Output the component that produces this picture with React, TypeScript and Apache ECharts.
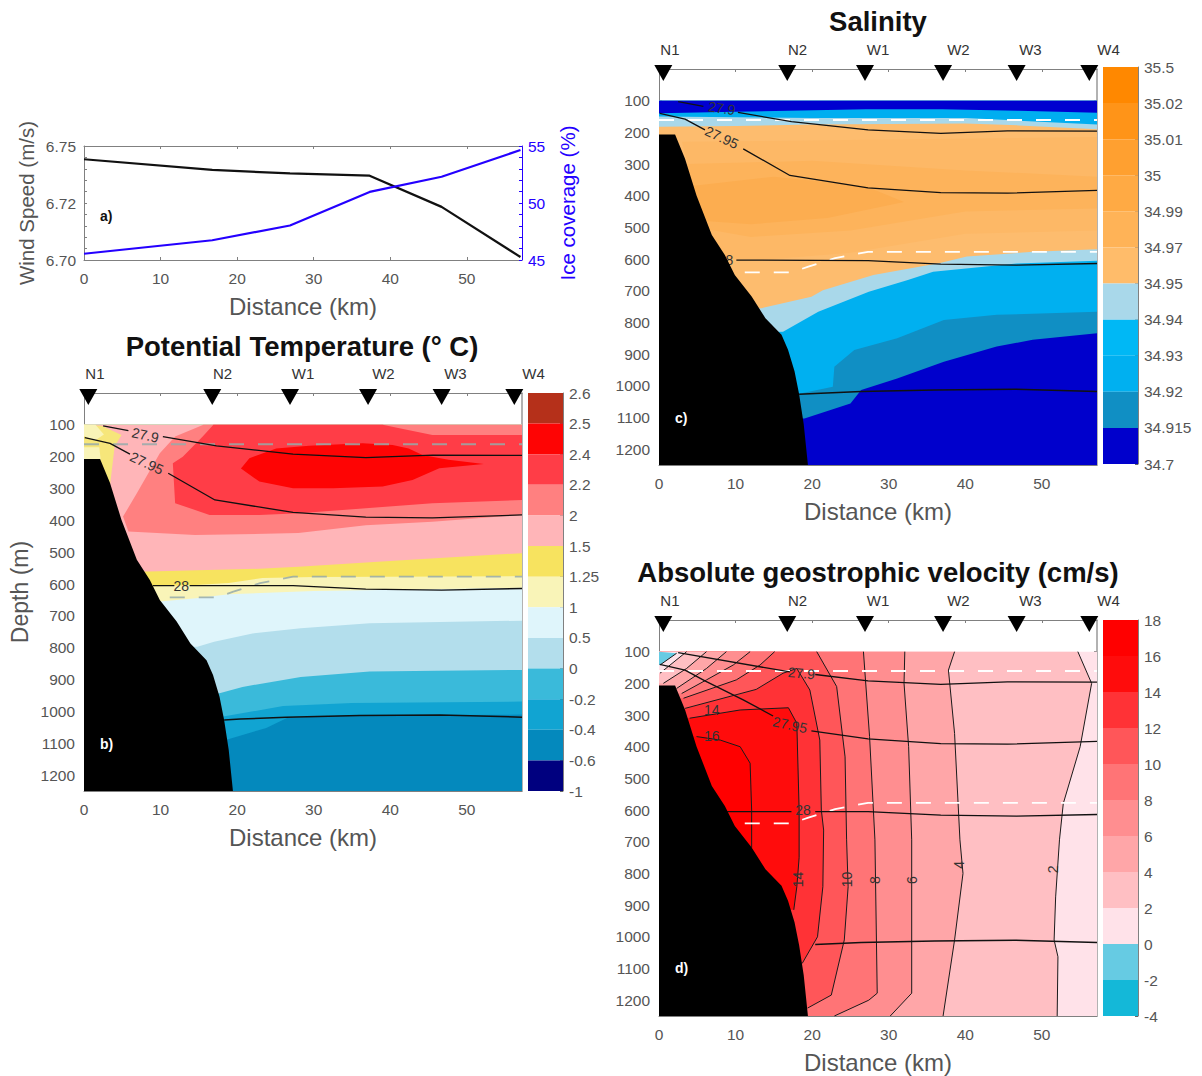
import React, { useEffect, useRef } from "react";
import * as echarts from "echarts";

type Pt = number[];
const FONT = "'Liberation Sans', Arial, sans-serif";
const GREY = "#555";
const AXIS = "#808080";
const KM_MAX = 57.2;
const TOP = 100;
const BOTTOM = 1250;
const TICK_FONT = 15.5;

// ---------- panel a ----------
const windKm = [0, 16.75, 26.9, 37.3, 46.7, 57];
const windSpeed = [6.7442, 6.7395, 6.738, 6.737, 6.7233, 6.7013];
const iceKm = [0, 16.75, 26.9, 37.3, 46.7, 57];
const iceCover = [45.55, 46.73, 48.03, 50.97, 52.3, 54.65];
const windTicks = [6.7, 6.725, 6.75];
const windTickLabels = ["6.70", "6.72", "6.75"];
const windMinor = [6.7, 6.705, 6.71, 6.715, 6.72, 6.725, 6.73, 6.735, 6.74, 6.745, 6.75];
const iceTicks = [45, 50, 55];
const iceMinor = [45, 46, 47, 48, 49, 50, 51, 52, 53, 54, 55];

// ---------- shared ----------
const kmTicks = [0, 10, 20, 30, 40, 50];
const depthTicks = [100, 200, 300, 400, 500, 600, 700, 800, 900, 1000, 1100, 1200];
const stationKm = [0.56, 16.75, 26.9, 37.1, 46.7, 56.2];
const stationLabelKm = [1.43, 18.1, 28.6, 39.1, 48.5, 58.7];
const stationNames = ["N1", "N2", "W1", "W2", "W3", "W4"];
const seafloor: Pt[] = [[0, 207], [2.1, 207], [3.4, 283], [4.9, 399], [6.9, 524], [8.6, 587], [9.9, 650], [12.1, 718], [13.9, 787], [16, 839], [16.85, 886], [17.7, 954], [18.3, 1027], [18.9, 1121], [19.45, 1250], [0, 1250]];

const iso279A: Pt[] = [[2.5, 103], [5.8, 118]];
const iso279B: Pt[] = [[10.3, 137], [17.3, 166], [27.3, 192], [36.8, 203], [45.5, 195], [57.2, 196]];
const iso2795A: Pt[] = [[0.1, 140], [3.4, 158], [6, 192]];
const iso2795B: Pt[] = [[11, 252], [17.1, 336], [27.3, 375], [36.8, 390], [45.5, 392], [57.2, 383]];
const iso28: Pt[] = [[9, 605], [13.9, 605], [27.3, 605], [36.8, 616], [46.7, 619], [57.2, 614]];
const isoDeep: Pt[] = [[18.3, 1027], [20.4, 1024], [26.4, 1018], [36, 1013], [46.5, 1011], [57.2, 1018]];
const dashUpper: Pt[] = [[0, 161], [57.2, 161]];
const dashLower: Pt[] = [[11.2, 642], [17.3, 642], [19.5, 624], [23, 597], [27.3, 577], [57.2, 577]];

// ---------- temperature ----------
const tempLabels = ["2.6", "2.5", "2.4", "2.2", "2", "1.5", "1.25", "1", "0.5", "0", "-0.2", "-0.4", "-0.6", "-1"];
const tempColors = ["#b5301a", "#fe0404", "#ff3d47", "#ff8080", "#ffb5b8", "#f7e35f", "#f9f4b8", "#dff5fb", "#b3deec", "#3abada", "#11a4d2", "#0489bd", "#00007f"];
const tempEdgeM02: Pt[] = [[0, 1095], [18.5, 1090], [23.8, 1052], [26.5, 1021], [35, 1012], [57.2, 1010]];
const tempEdge0: Pt[] = [[0, 1020], [18, 1017], [26, 983], [35, 974], [57.2, 969]];
const tempEdge05: Pt[] = [[0, 950], [17.7, 943], [20.7, 923], [28.3, 892], [37.3, 875], [46, 872], [57.2, 870]];
const tempEdge1: Pt[] = [[0, 800], [14.8, 797], [17, 781], [22, 755], [28.3, 739], [37.3, 723], [57.2, 715]];
const tempEdge125: Pt[] = [[0, 655], [9.9, 655], [14.6, 645], [18.9, 632], [30, 622], [57.2, 612]];
const tempEdge15: Pt[] = [[0, 608], [8.6, 608], [14.6, 603], [18.9, 597], [23.3, 581], [30, 578], [57.2, 575]];
const tempEdge2: Pt[] = [[0, 561], [8.4, 561], [22.9, 552], [28, 546], [41, 526], [57.2, 503]];
const tempSalmon: Pt[] = [[5.8, 435], [5.1, 388], [6.9, 315], [9.9, 189], [11.9, 137], [15.6, 100], [57.2, 100], [57.2, 383], [45.5, 404], [36.8, 415], [28, 440], [14.5, 446]];
const tempWarm: Pt[] = [[16.9, 100], [39, 100], [41.2, 111], [45.5, 132], [57.2, 132], [57.2, 336], [45.5, 346], [36.8, 362], [28.1, 378], [22.9, 383], [16.4, 383], [11.9, 346], [11.6, 221], [12.9, 200], [15.5, 137]];
const tempCore: Pt[] = [[20.5, 237], [21.6, 205], [25.1, 174], [29.4, 166], [36.4, 158], [40.3, 163], [42.4, 174], [44.2, 195], [47.6, 210], [52.2, 223], [46.4, 236], [42.9, 273], [39, 294], [32.5, 299], [27.3, 299], [22.9, 278]];
const tempWedge: Pt[] = [[0, 100], [2.3, 103], [4.9, 132], [4, 168], [3.4, 290], [0, 290]];
const tempWedgePale: Pt[] = [[0, 100], [1.5, 100], [2.6, 130], [1.4, 150], [0, 135]];
const tempWedgePale2: Pt[] = [[0, 170], [2, 170], [2.2, 215], [0, 215]];

// ---------- salinity ----------
const salLabels = ["35.5", "35.02", "35.01", "35", "34.99", "34.97", "34.95", "34.94", "34.93", "34.92", "34.915", "34.7"];
const salColors = ["#ff8800", "#ff9418", "#ffa030", "#ffaa44", "#ffb357", "#ffbc6a", "#a9d8ea", "#00b8f5", "#00b0f0", "#108fc4", "#0000cc"];
const salEdgeDark: Pt[] = [[0, 1103], [19, 1103], [25, 1056], [26.4, 1013], [31.1, 977], [37.2, 924], [44.1, 876], [48.8, 855], [57.2, 834]];
const salEdgeBright: Pt[] = [[0, 1025], [18.3, 1025], [22.7, 1003], [22.9, 940], [25.5, 887], [31.1, 850], [37.2, 792], [44.1, 776], [57.2, 766]];
const salEdgeLight: Pt[] = [[0, 840], [16.2, 829], [20.8, 766], [27.4, 703], [32.5, 666], [35.8, 640], [46.7, 614], [57.2, 605]];
const salEdgeOrange: Pt[] = [[0, 770], [13.4, 755], [19.9, 719], [21.4, 698], [28, 650], [36.7, 612], [40.2, 592], [48.9, 577], [57.2, 569]];
const salMid: Pt[] = [[3, 230], [57.2, 215], [57.2, 510], [40, 520], [25, 580], [15, 600], [7, 600]];
const salInner: Pt[] = [[3.5, 300], [20, 290], [40, 320], [57.2, 340], [57.2, 440], [40, 450], [25, 510], [12, 530], [5, 500]];
const salCore: Pt[] = [[4, 370], [15, 340], [27, 370], [32, 420], [22, 470], [12, 490], [6, 480]];
const salSurfLight: Pt[] = [[0, 182], [10, 180], [20, 175], [40, 172], [47, 178], [57.2, 190]];
const salSurfBright: Pt[] = [[0, 150], [20, 155], [40, 155], [47, 163], [57.2, 175]];
const salSurfDark: Pt[] = [[0, 140], [10, 135], [27, 127], [37, 127], [47, 132], [57.2, 138]];

// ---------- velocity ----------
const velLabels = ["18", "16", "14", "12", "10", "8", "6", "4", "2", "0", "-2", "-4"];
const velColors = ["#ff0000", "#ff0c0c", "#ff3236", "#ff5659", "#ff7476", "#ff8e90", "#ffa6a8", "#ffbfc3", "#ffe2e9", "#66cbe3", "#14b8d8"];
const vel2: Pt[] = [[54.7, 100], [56.5, 200], [55, 400], [52.8, 579], [52.3, 694], [51.8, 874], [51.6, 1010], [52.1, 1063], [52, 1250]];
const vel4: Pt[] = [[38.6, 100], [37.8, 158], [38.6, 358], [39.3, 694], [39.7, 800], [38.6, 1010], [37.1, 1250]];
const vel6: Pt[] = [[32.1, 100], [32, 200], [32.6, 400], [33, 694], [33, 1178], [30.2, 1250]];
const vel8: Pt[] = [[26.7, 100], [27.5, 368], [28.2, 694], [28.5, 1178], [27.4, 1200], [22.9, 1250]];
const vel10: Pt[] = [[20.6, 100], [23.2, 210], [24.3, 432], [24.5, 694], [24.7, 842], [24.2, 1010], [22.5, 1184], [19.4, 1225]];
const vel12: Pt[] = [[3.4, 279], [12.7, 219], [16.2, 168], [18, 153], [19.7, 221], [21, 379], [21.2, 600], [21.5, 663], [21.4, 842], [20.7, 1000], [18.7, 1084]];
const vel14: Pt[] = [[4, 310], [10.6, 284], [16.9, 277], [18, 326], [18.3, 600], [18.3, 750], [18, 842], [17.6, 915]];
const vel16: Pt[] = [[4.9, 368], [8, 379], [10.6, 400], [11.9, 452], [12.1, 600], [12.1, 719]];
const velFan1: Pt[] = [[15.1, 100], [13.2, 142], [10.1, 189], [3.2, 247]];
const velFan2: Pt[] = [[11.9, 100], [9.7, 142], [6.2, 189], [2.96, 232]];
const velFan3: Pt[] = [[8.8, 100], [6.2, 153], [2.3, 216]];
const velFan4: Pt[] = [[6.2, 100], [3.6, 153], [0.57, 200]];
const velFan5: Pt[] = [[3.6, 100], [0.13, 168]];
const velFan6: Pt[] = [[2.3, 105], [0.13, 142]];

// ---------- contour labels: km, depth, text, rotation ----------
const tempIsoLabels: [number, number, string, number][] = [[8, 132, "27.9", -12], [8.2, 220, "27.95", -25], [12.7, 605, "28", 0]];
const salIsoLabels: [number, number, string, number][] = [[8.2, 124, "27.9", -8], [8.2, 216, "27.95", -25], [8.7, 603, "28", 0]];
const velIsoLabels: [number, number, string, number][] = [
  [18.6, 168, "27.9", -5], [17.1, 331, "27.95", -12], [18.8, 600, "28", 0],
  [6.9, 283, "14", 0], [6.9, 366, "16", 0],
  [18.2, 819, "14", 90], [24.6, 819, "10", 90], [28.2, 821, "8", 90], [33, 821, "6", 90], [39.2, 773, "4", 90], [51.5, 787, "2", 90],
];

const stationLabelDepth = -60;
const markerDepth = 12.5;

const above = (edge: Pt[]): Pt[] => [[0, TOP], [KM_MAX, TOP], ...[...edge].reverse()];
const leftOf = (curve: Pt[]): Pt[] => [...curve, [0, BOTTOM], [0, TOP]];
const closedLeft = (curve: Pt[]): Pt[] => [[0, curve[curve.length - 1][1]], [0, curve[0][1]], ...curve];
const cornerAbove = (curve: Pt[]): Pt[] => [[0, TOP], ...curve, [0, curve[curve.length - 1][1]]];
const whole: Pt[] = [[0, TOP], [KM_MAX, TOP], [KM_MAX, BOTTOM], [0, BOTTOM]];

type Poly = { pts: Pt[]; fill: string };

const tempPolys: Poly[] = [
  { pts: whole, fill: tempColors[11] },
  { pts: above(tempEdgeM02), fill: tempColors[10] },
  { pts: above(tempEdge0), fill: tempColors[9] },
  { pts: above(tempEdge05), fill: tempColors[8] },
  { pts: above(tempEdge1), fill: tempColors[7] },
  { pts: above(tempEdge125), fill: tempColors[6] },
  { pts: above(tempEdge15), fill: tempColors[5] },
  { pts: above(tempEdge2), fill: tempColors[4] },
  { pts: tempSalmon, fill: tempColors[3] },
  { pts: tempWarm, fill: tempColors[2] },
  { pts: tempCore, fill: tempColors[1] },
  { pts: tempWedge, fill: "#f6e67a" },
  { pts: tempWedgePale, fill: tempColors[6] },
  { pts: tempWedgePale2, fill: tempColors[6] },
];
const salPolys: Poly[] = [
  { pts: whole, fill: salColors[10] },
  { pts: above(salEdgeDark), fill: salColors[9] },
  { pts: above(salEdgeBright), fill: salColors[8] },
  { pts: above(salEdgeLight), fill: salColors[6] },
  { pts: above(salEdgeOrange), fill: "#fdbc6e" },
  { pts: salMid, fill: "#fdb866" },
  { pts: salInner, fill: "#fdb35b" },
  { pts: salCore, fill: "#fcad50" },
  { pts: above(salSurfLight), fill: salColors[6] },
  { pts: above(salSurfBright), fill: "#00aef0" },
  { pts: above(salSurfDark), fill: "#0000d0" },
];
const velPolys: Poly[] = [
  { pts: whole, fill: velColors[8] },
  { pts: leftOf(vel2), fill: velColors[7] },
  { pts: leftOf(vel4), fill: velColors[6] },
  { pts: leftOf(vel6), fill: velColors[5] },
  { pts: leftOf(vel8), fill: velColors[4] },
  { pts: leftOf(vel10), fill: velColors[3] },
  { pts: closedLeft(vel12), fill: velColors[2] },
  { pts: closedLeft(vel14), fill: velColors[1] },
  { pts: closedLeft(vel16), fill: velColors[0] },
  { pts: cornerAbove(velFan1), fill: velColors[4] },
  { pts: cornerAbove(velFan2), fill: velColors[5] },
  { pts: cornerAbove(velFan3), fill: velColors[6] },
  { pts: cornerAbove(velFan4), fill: velColors[7] },
  { pts: cornerAbove(velFan5), fill: velColors[8] },
  { pts: cornerAbove(velFan6), fill: velColors[9] },
];

const withGap = (...parts: Pt[][]) => {
  const out: number[][] = [];
  parts.forEach((p, i) => {
    if (i) out.push([NaN, NaN]);
    out.push(...p);
  });
  return out;
};

const polySeries = (polys: Poly[], ax: number, z: number, id: string) => ({
  type: "custom", id, coordinateSystem: "cartesian2d", xAxisIndex: ax, yAxisIndex: ax, clip: true, silent: true, z,
  encode: { x: 0, y: 1 },
  data: polys.map((_, i) => [i, 500]),
  renderItem: (p: any, api: any) => ({
    type: "polygon",
    shape: { points: polys[p.dataIndex].pts.map((q) => api.coord(q)) },
    style: { fill: polys[p.dataIndex].fill },
  }),
});

const textSeries = (rows: [number, number, string, number][], ax: number, size: number, fill: string, z: number) => ({
  type: "custom", coordinateSystem: "cartesian2d", xAxisIndex: ax, yAxisIndex: ax, clip: false, silent: true, z,
  encode: { x: 0, y: 1 },
  data: rows.map((r) => [r[0], r[1]]),
  renderItem: (p: any, api: any) => {
    const r = rows[p.dataIndex];
    const c = api.coord([r[0], r[1]]);
    return {
      type: "text", x: c[0], y: c[1], rotation: (r[3] * Math.PI) / 180,
      style: { text: r[2], fill, font: `${size}px ${FONT}`, align: "center", verticalAlign: "middle" },
    };
  },
});

const lineSeries = (data: number[][], ax: number, color: string, width: number, z: number, dash?: number[]) => ({
  type: "line", xAxisIndex: ax, yAxisIndex: ax, data, showSymbol: false, symbol: "none", silent: true, z,
  connectNulls: false,
  lineStyle: { color, width, type: dash || "solid" },
});

const colorbar = (colors: string[], ax: number) => ({
  type: "custom", coordinateSystem: "cartesian2d", xAxisIndex: ax, yAxisIndex: ax, clip: true, silent: true, z: 2,
  encode: { x: 0, y: 1 },
  data: colors.map((_, i) => [0, i]),
  renderItem: (p: any, api: any) => {
    const a = api.coord([0, p.dataIndex]);
    const b = api.coord([1, p.dataIndex + 1]);
    return { type: "rect", shape: { x: a[0], y: a[1], width: b[0] - a[0], height: b[1] - a[1] }, style: { fill: colors[p.dataIndex] } };
  },
});

const sectionSeries = (polys: Poly[], ax: number, isoLabels: [number, number, string, number][], dashColor: string, gaps: { a: Pt[][]; b: Pt[][]; c: Pt[][]; d: Pt[] }, id: string, extra: any[] = []) => [
  polySeries(polys, ax, 1, id + "-fill"),
  ...extra,
  lineSeries(dashUpper, ax, dashColor, 1.8, 3, [15, 14]),
  lineSeries(dashLower, ax, dashColor, 1.8, 3, [15, 14]),
  lineSeries(withGap(...gaps.a), ax, "#111", 1.3, 4),
  lineSeries(withGap(...gaps.b), ax, "#111", 1.3, 4),
  lineSeries(withGap(...gaps.c), ax, "#111", 1.3, 4),
  lineSeries(gaps.d, ax, "#111", 1.5, 4),
  textSeries(isoLabels, ax, 14, "#333", 4),
  polySeries([{ pts: seafloor, fill: "#000" }], ax, 5, id + "-floor"),
  {
    type: "scatter", xAxisIndex: ax, yAxisIndex: ax, clip: false, silent: true, z: 6,
    symbol: "triangle", symbolRotate: 180, symbolSize: [18, 16],
    itemStyle: { color: "#000", opacity: 1 },
    data: stationKm.map((k) => [k, markerDepth]),
  },
  textSeries(stationNames.map((n, i) => [stationLabelKm[i], stationLabelDepth, n, 0] as [number, number, string, number]), ax, 15, "#333", 6),
];

const bottomX = (grid: number, name: string) => ({
  type: "value", gridIndex: grid, min: 0, max: KM_MAX, position: "bottom",
  name, nameLocation: "middle", nameGap: 34,
  nameTextStyle: { fontFamily: FONT, fontSize: 24, color: GREY },
  axisLine: { show: true, onZero: false, lineStyle: { color: AXIS } },
  axisTick: { show: true, inside: true, length: 3, customValues: kmTicks, lineStyle: { color: AXIS } },
  axisLabel: { show: true, customValues: kmTicks, margin: 10, fontFamily: FONT, fontSize: TICK_FONT, color: GREY },
  splitLine: { show: false },
});
const topX = (grid: number) => ({
  type: "value", gridIndex: grid, min: 0, max: KM_MAX, position: "top",
  axisLine: { show: true, onZero: false, lineStyle: { color: AXIS } },
  axisTick: { show: true, inside: true, length: 3, customValues: kmTicks, lineStyle: { color: AXIS } },
  axisLabel: { show: false },
  splitLine: { show: false },
});
const depthLeft = (grid: number, name?: string) => ({
  type: "value", gridIndex: grid, min: 0, max: BOTTOM, inverse: true, position: "left",
  name, nameLocation: "middle", nameGap: 53, nameRotate: 90,
  nameTextStyle: { fontFamily: FONT, fontSize: 23, color: GREY },
  axisLine: { show: true, onZero: false, lineStyle: { color: AXIS } },
  axisTick: { show: true, inside: true, length: 3, customValues: depthTicks, lineStyle: { color: AXIS } },
  axisLabel: { show: true, customValues: depthTicks, margin: 9, fontFamily: FONT, fontSize: TICK_FONT, color: GREY, formatter: (v: number) => String(v) },
  splitLine: { show: false },
});
const depthRight = (grid: number) => ({
  type: "value", gridIndex: grid, min: 0, max: BOTTOM, inverse: true, position: "right",
  axisLine: { show: true, onZero: false, lineStyle: { color: "#999", width: 1.5 } },
  axisTick: { show: true, inside: true, length: 3, customValues: depthTicks, lineStyle: { color: AXIS } },
  axisLabel: { show: false },
  splitLine: { show: false },
});
const barX = (grid: number) => ({ type: "value", gridIndex: grid, min: 0, max: 1, show: false });
const barY = (grid: number, labels: string[]) => ({
  type: "value", gridIndex: grid, min: 0, max: labels.length - 1, interval: 1, inverse: true, position: "right",
  axisLine: { show: true, onZero: false, lineStyle: { color: AXIS } },
  axisTick: { show: true, inside: true, length: 3, lineStyle: { color: "#666" } },
  axisLabel: { show: true, margin: 6, fontFamily: FONT, fontSize: TICK_FONT, color: GREY, formatter: (v: number) => labels[v] },
  splitLine: { show: false },
});

const titleStyle = { fontFamily: FONT, fontSize: 27.5, fontWeight: "bold" as const, color: "#111" };
const panelTag = (text: string, x: number, y: number, fill: string) => ({
  type: "text", x, y, z: 20, style: { text, fill, font: `bold 14px ${FONT}`, align: "left", verticalAlign: "middle" },
});

export default function App() {
  const ref = useRef<HTMLDivElement>(null);
  useEffect(() => {
    const chart = echarts.init(ref.current!, undefined, { renderer: "svg" });
    chart.setOption({
      animation: false,
      backgroundColor: "#fff",
      title: [
        { text: "Potential Temperature (° C)", left: 297, top: 327, textAlign: "center", textStyle: titleStyle },
        { text: "Salinity", left: 873, top: 2, textAlign: "center", textStyle: titleStyle },
        { text: "Absolute geostrophic velocity (cm/s)", left: 873, top: 553, textAlign: "center", textStyle: titleStyle },
      ],
      grid: [
        { left: 84, top: 146, width: 438, height: 114 },
        { left: 84, top: 393, width: 438, height: 398 },
        { left: 659, top: 69, width: 438, height: 396 },
        { left: 659, top: 620, width: 438, height: 396 },
        { left: 528, top: 393, width: 35, height: 398 },
        { left: 1103, top: 67, width: 35, height: 397 },
        { left: 1103, top: 620, width: 35, height: 396 },
      ],
      xAxis: [
        bottomX(0, "Distance (km)"), topX(0),
        bottomX(1, "Distance (km)"), topX(1),
        bottomX(2, "Distance (km)"), topX(2),
        bottomX(3, "Distance (km)"), topX(3),
        barX(4), barX(5), barX(6),
      ],
      yAxis: [
        {
          type: "value", gridIndex: 0, min: 6.7, max: 6.75, position: "left",
          name: "Wind Speed (m/s)", nameLocation: "middle", nameGap: 47, nameRotate: 90,
          nameTextStyle: { fontFamily: FONT, fontSize: 20.5, color: GREY },
          axisLine: { show: true, onZero: false, lineStyle: { color: AXIS } },
          axisTick: { show: true, inside: true, length: 3, customValues: windMinor, lineStyle: { color: AXIS } },
          axisLabel: {
            show: true, customValues: windTicks, margin: 8, fontFamily: FONT, fontSize: TICK_FONT, color: GREY,
            formatter: (v: number) => windTickLabels[windTicks.findIndex((t) => Math.abs(t - v) < 1e-6)],
          },
          splitLine: { show: false },
        },
        {
          type: "value", gridIndex: 0, min: 45, max: 55, position: "right",
          name: "Ice coverage (%)", nameLocation: "middle", nameGap: 35, nameRotate: 90,
          nameTextStyle: { fontFamily: FONT, fontSize: 20.5, color: "#2400ff" },
          axisLine: { show: true, onZero: false, lineStyle: { color: "#2400ff" } },
          axisTick: { show: true, inside: true, length: 3, customValues: iceMinor, lineStyle: { color: "#2400ff" } },
          axisLabel: { show: true, customValues: iceTicks, margin: 6, fontFamily: FONT, fontSize: TICK_FONT, color: "#2400ff" },
          splitLine: { show: false },
        },
        depthLeft(1, "Depth (m)"), depthRight(1),
        depthLeft(2), depthRight(2),
        depthLeft(3), depthRight(3),
        barY(4, tempLabels), barY(5, salLabels), barY(6, velLabels),
      ],
      series: [
        {
          type: "line", xAxisIndex: 0, yAxisIndex: 0, showSymbol: false, symbol: "none", silent: true,
          data: windKm.map((k, i) => [k, windSpeed[i]]), lineStyle: { color: "#111", width: 2.2 },
        },
        {
          type: "line", xAxisIndex: 1, yAxisIndex: 1, showSymbol: false, symbol: "none", silent: true,
          data: iceKm.map((k, i) => [k, iceCover[i]]), lineStyle: { color: "#2400ff", width: 2.2 },
        },
        ...sectionSeries(tempPolys, 2, tempIsoLabels, "rgba(150,170,170,0.85)", { a: [iso279A, iso279B], b: [iso2795A, iso2795B], c: [[[9, 605], [11.8, 605]], [[13.8, 605], ...iso28.slice(2)]], d: isoDeep }, "t"),
        ...sectionSeries(salPolys, 4, salIsoLabels, "#fff", { a: [iso279A, iso279B], b: [iso2795A, iso2795B], c: [[[10.1, 603], ...iso28.slice(2)]], d: isoDeep }, "s"),
        ...sectionSeries(velPolys, 6, velIsoLabels, "#fff", {
          a: [[[2.5, 103], [17.1, 164]], [[20.4, 172], ...iso279B.slice(2)]],
          b: [[...iso2795A, [11, 252], [14.9, 303]], [[19.9, 350], ...iso2795B.slice(2)]],
          c: [[[8.9, 605], [17.3, 605]], [[20.4, 605], ...iso28.slice(2)]],
          d: isoDeep.slice(1),
        }, "v", [vel2, vel4, vel6, vel8, vel10, vel12, vel14, vel16, velFan1, velFan2, velFan3, velFan4, velFan5, velFan6].map((c) => lineSeries(c, 6, "#1a1a1a", 1, 2))),
        colorbar(tempColors, 8), colorbar(salColors, 9), colorbar(velColors, 10),
      ],
      graphic: [
        panelTag("a)", 100, 216, "#111"),
        panelTag("b)", 100, 744, "#fff"),
        panelTag("c)", 675, 418, "#fff"),
        panelTag("d)", 675, 968, "#fff"),
      ],
    });
    return () => chart.dispose();
  }, []);
  return <div ref={ref} style={{ position: "absolute", left: 0, top: 0, width: 1202, height: 1076 }} />;
}
